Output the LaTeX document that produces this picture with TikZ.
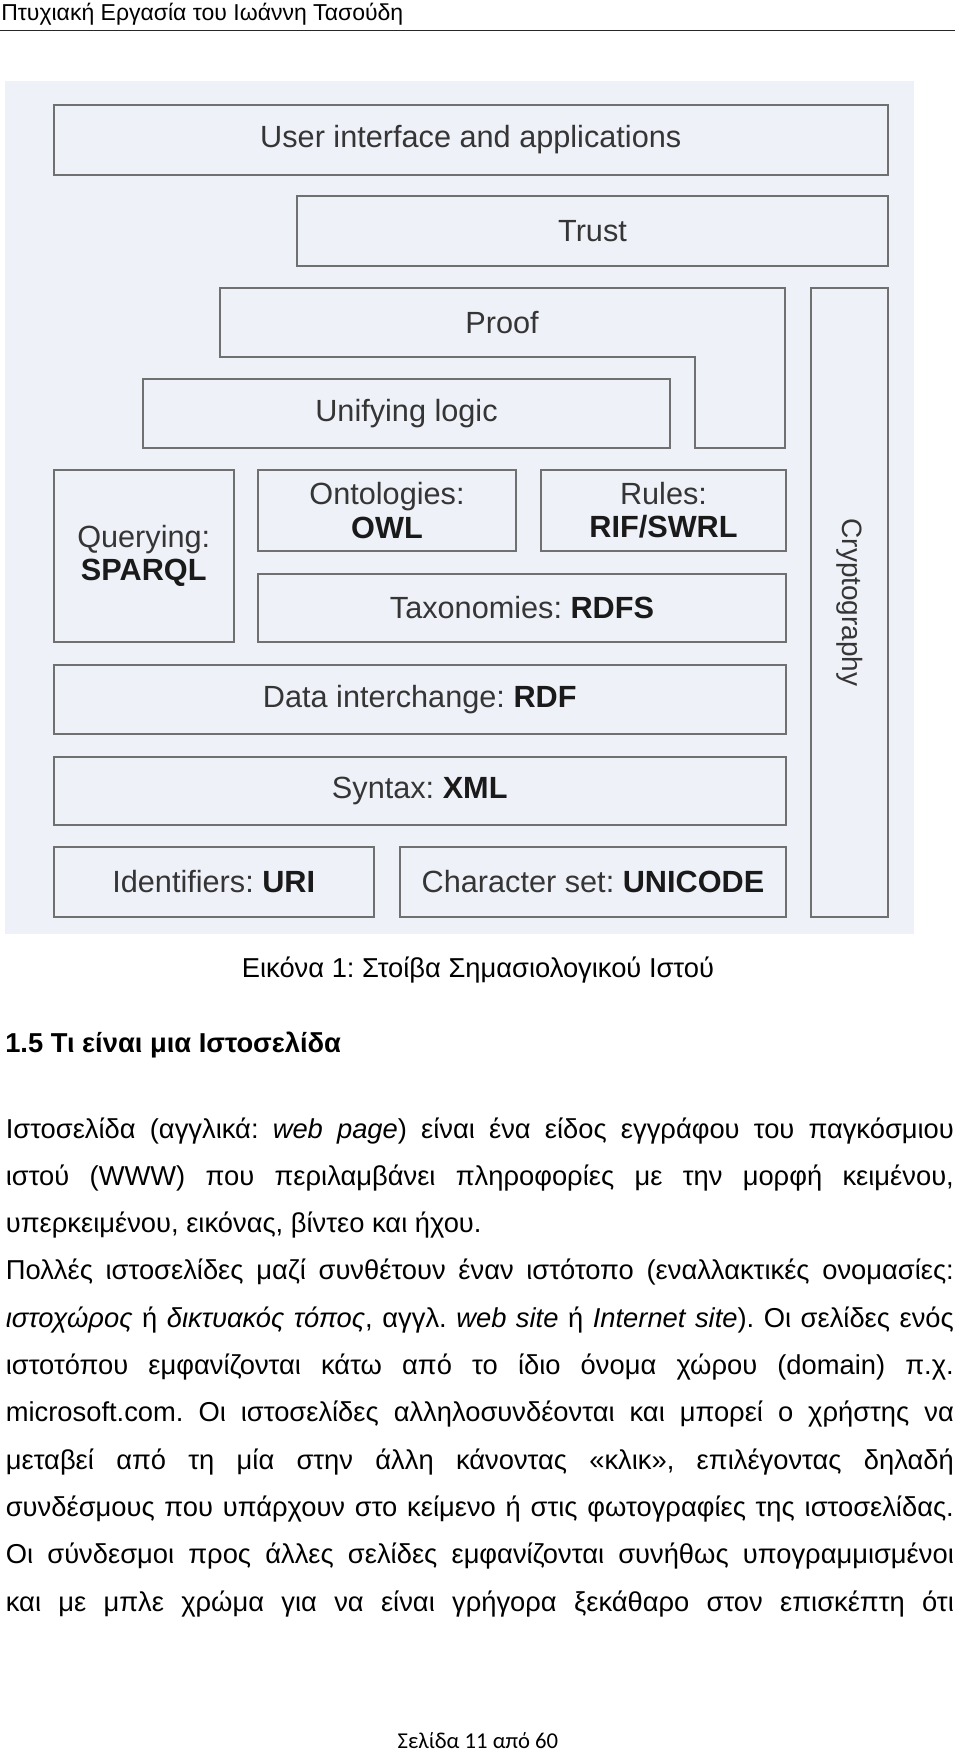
\documentclass[tikz,border=0pt]{standalone}
\usepackage{fontspec}
\setmainfont{Liberation Sans}
\newfontfamily\footfont{Carlito}
\definecolor{panelbg}{HTML}{EEF1F8}
\definecolor{boxline}{HTML}{707070}
\definecolor{boxtext}{HTML}{353535}
\definecolor{boldtext}{HTML}{1A1A1A}
\tikzset{
  layer/.style={draw=boxline, line width=1.5pt, inner sep=0pt, text=boxtext,
    font=\fontsize{23}{25}\selectfont, align=center},
  bodyline/.style={anchor=base west, inner sep=0pt, font=\fontsize{20.5}{22}\selectfont},
}
\newcommand{\B}[1]{{\bfseries\color{boldtext}#1}}
\newcommand{\jline}[1]{\makebox[711pt][s]{#1}}
\newcommand{\layerbox}[6]{%
  \node[layer, minimum width={(#4-#2)*0.75pt}, minimum height={(#5-#3)*0.75pt}]
    (#1) at ({(#2+#4)/2},{(#3+#5)/2}) {#6};}
\frenchspacing
\begin{document}
\begin{tikzpicture}[x=0.75pt,y=-0.75pt]
\useasboundingbox (0,0) rectangle (960,1752);
% header
\node[anchor=base west, inner sep=0pt, font=\fontsize{17.25}{19}\selectfont] (hdr) at (1,20.5) {Πτυχιακή Εργασία του Ιωάννη Τασούδη};
\coordinate (hl) at (0,30.5);
\coordinate (hr) at (955,30.5);
\draw[line width=1.3pt, draw=black!85] (hl) -- (hr);
% panel
\fill[panelbg] (5,81) rectangle (914,934);
% layers
\layerbox{ui}{53.5}{105}{888}{175}{User interface and applications}
\layerbox{trust}{297}{196}{888}{266}{Trust}
\draw[boxline, line width=1.5pt] (220,288) -- (785,288) -- (785,448) -- (695,448) -- (695,357) -- (220,357) -- cycle;
\node[text=boxtext, font=\fontsize{23}{25}\selectfont] (proof) at (502,322.5) {Proof};
\layerbox{crypto}{811}{288}{888}{917}{}
\node[text=boxtext, font=\fontsize{21}{23}\selectfont, rotate=-90] (cryptotext) at (crypto.center) {Cryptography};
\layerbox{logic}{143}{379}{670}{448}{Unifying logic}
\layerbox{query}{53.5}{470}{234}{642}{Querying:\\\B{SPARQL}}
\layerbox{onto}{258}{470}{516}{551}{Ontologies:\\\B{OWL}}
\layerbox{rules}{541}{470}{786}{551}{Rules:\\\B{RIF/SWRL}}
\layerbox{tax}{258}{574}{786}{642}{Taxonomies: \B{RDFS}}
\layerbox{rdf}{53.5}{665}{786}{734}{Data interchange: \B{RDF}}
\layerbox{xml}{53.5}{757}{786}{825}{Syntax: \B{XML}}
\layerbox{uri}{53.5}{847}{374}{917}{Identifiers: \B{URI}}
\layerbox{uni}{400}{847}{786}{917}{Character set: \B{UNICODE}}
% caption and heading
\node[anchor=base, inner sep=0pt, font=\fontsize{20.5}{22}\selectfont] (cap) at (478,977) {Εικόνα 1: Στοίβα Σημασιολογικού Ιστού};
\node[anchor=base west, inner sep=0pt, font=\fontsize{20.5}{22}\bfseries] (sec) at (5,1052) {1.5 Τι είναι μια Ιστοσελίδα};
% body
\node[bodyline] (l1) at (5.6,1138) {\jline{Ιστοσελίδα (αγγλικά: \textit{web page}) είναι ένα είδος εγγράφου του παγκόσμιου}};
\node[bodyline] (l2) at (5.6,1185.3) {\jline{ιστού (WWW) που περιλαμβάνει πληροφορίες με την μορφή κειμένου,}};
\node[bodyline] (l3) at (5.6,1232.6) {υπερκειμένου, εικόνας, βίντεο και ήχου.};
\node[bodyline] (l4) at (5.6,1279.9) {\jline{Πολλές ιστοσελίδες μαζί συνθέτουν έναν ιστότοπο (εναλλακτικές ονομασίες:}};
\node[bodyline] (l5) at (5.6,1327.2) {\jline{\textit{ιστοχώρος} ή \textit{δικτυακός τόπος}, αγγλ. \textit{web site} ή \textit{Internet site}). Οι σελίδες ενός}};
\node[bodyline] (l6) at (5.6,1374.5) {\jline{ιστοτόπου εμφανίζονται κάτω από το ίδιο όνομα χώρου (domain) π.χ.}};
\node[bodyline] (l7) at (5.6,1421.8) {\jline{microsoft.com. Οι ιστοσελίδες αλληλοσυνδέονται και μπορεί ο χρήστης να}};
\node[bodyline] (l8) at (5.6,1469.1) {\jline{μεταβεί από τη μία στην άλλη κάνοντας «κλικ», επιλέγοντας δηλαδή}};
\node[bodyline] (l9) at (5.6,1516.4) {\jline{συνδέσμους που υπάρχουν στο κείμενο ή στις φωτογραφίες της ιστοσελίδας.}};
\node[bodyline] (l10) at (5.6,1563.7) {\jline{Οι σύνδεσμοι προς άλλες σελίδες εμφανίζονται συνήθως υπογραμμισμένοι}};
\node[bodyline] (l11) at (5.6,1611) {\jline{και με μπλε χρώμα για να είναι γρήγορα ξεκάθαρο στον επισκέπτη ότι}};
% footer
\node[anchor=base, inner sep=0pt, font=\footfont\fontsize{17}{19}\selectfont] (foot) at (478,1748) {Σελίδα 11 από 60};
\end{tikzpicture}
\end{document}
